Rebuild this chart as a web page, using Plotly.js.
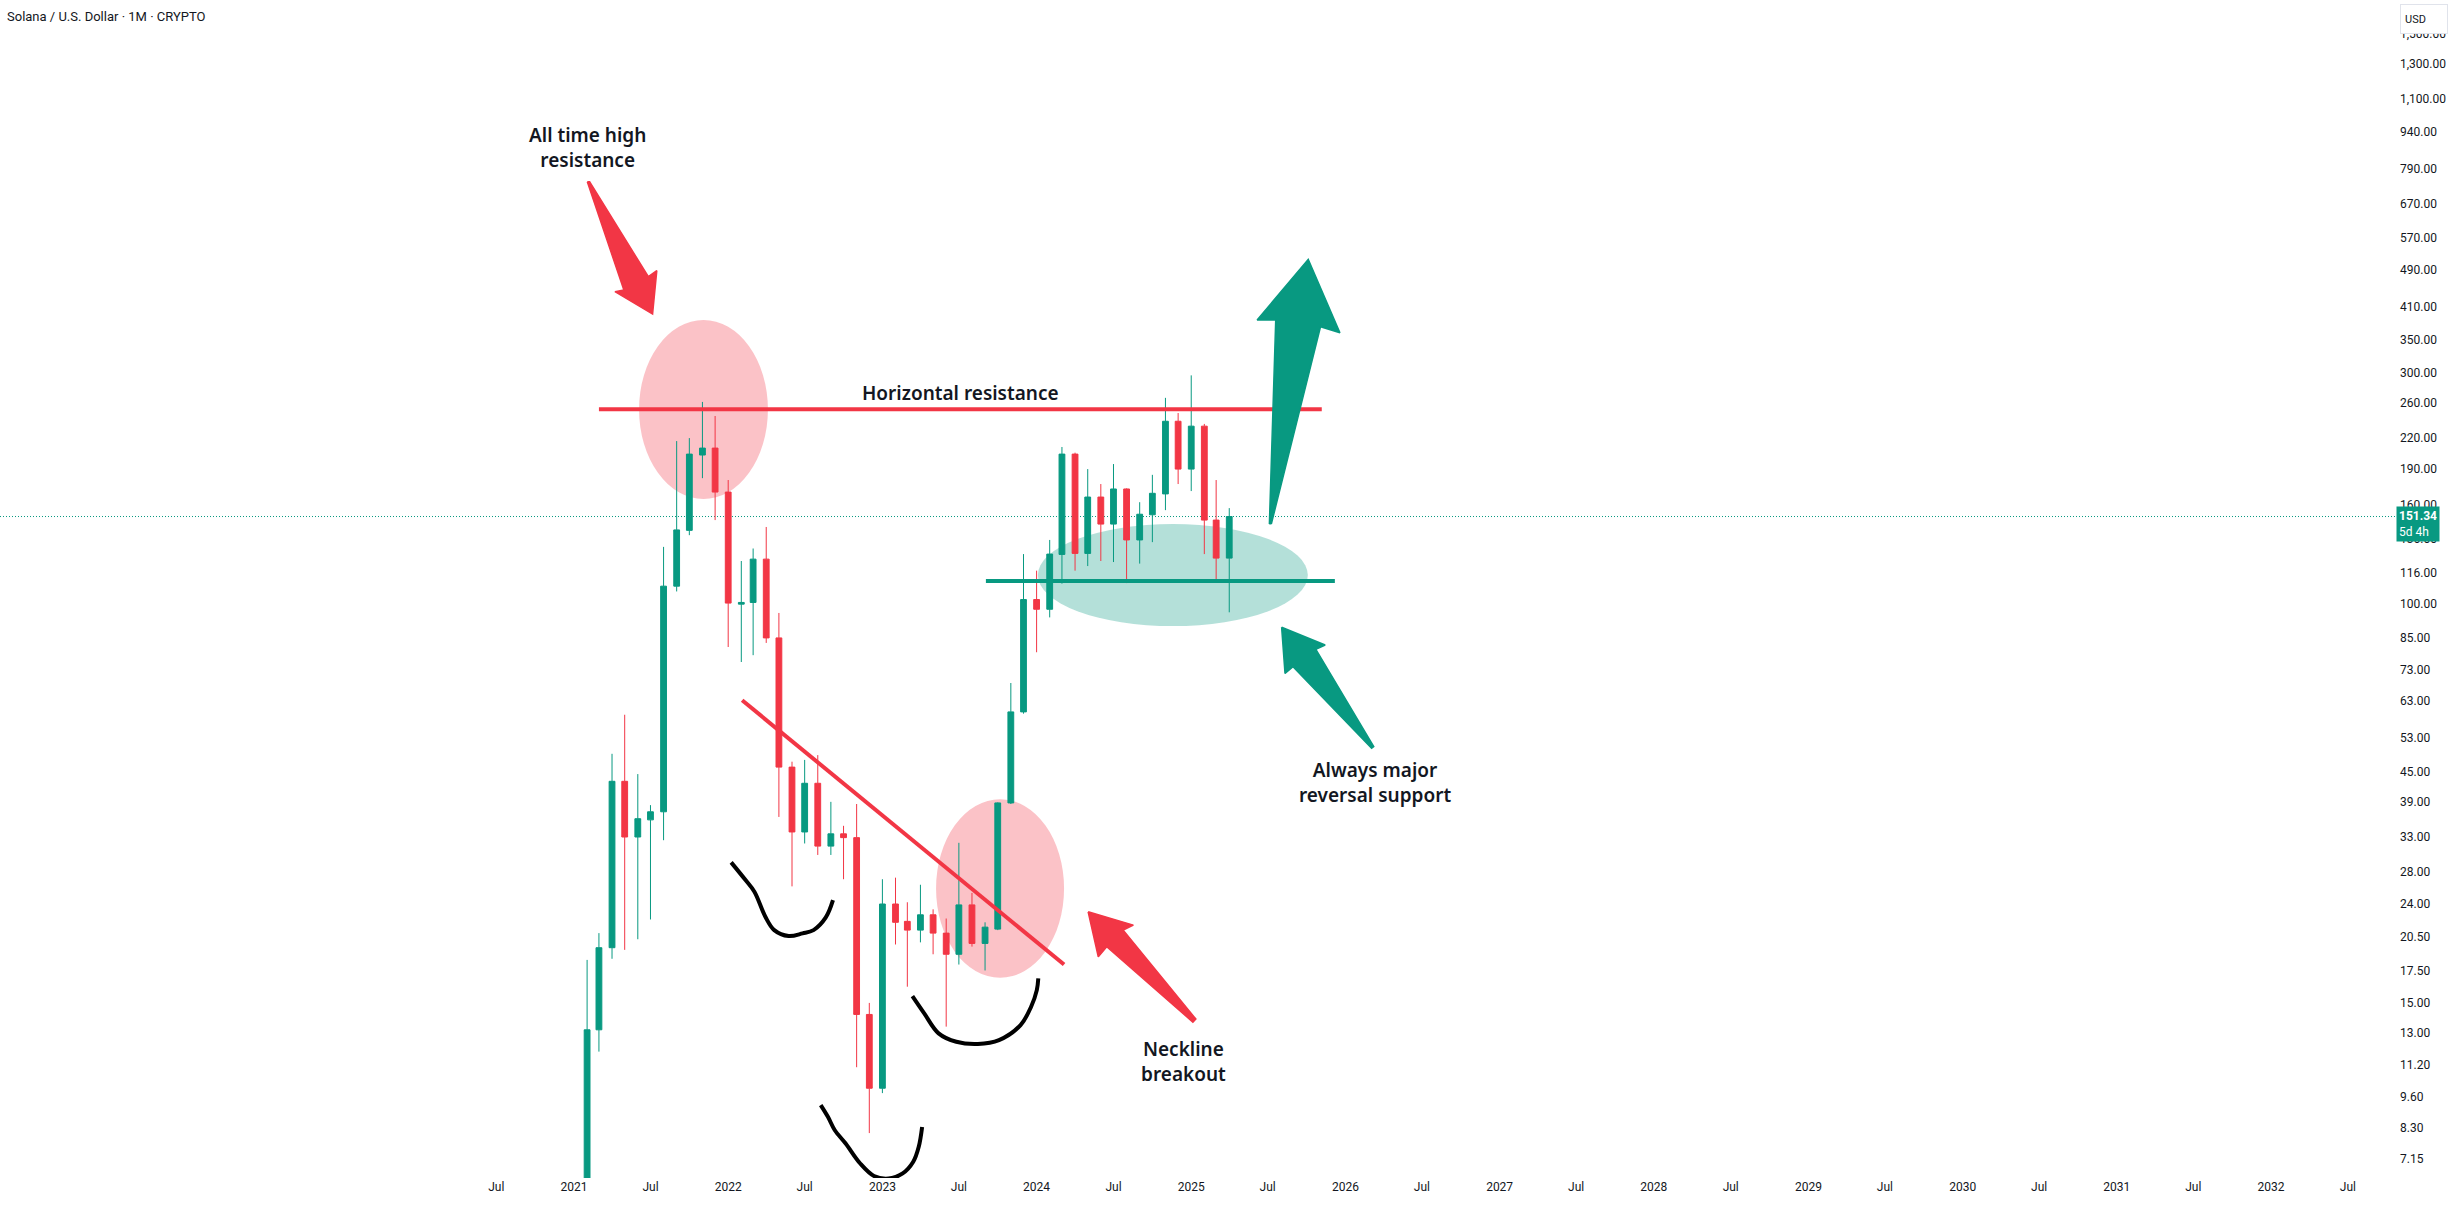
<!DOCTYPE html>
<html>
<head>
<meta charset="utf-8">
<script src="https://cdn.plot.ly/plotly-3.0.1.min.js"></script>
<style>html,body{margin:0;padding:0;background:#fff;} #chart{width:2455px;height:1206px;}</style>
</head>
<body>
<div id="chart"></div>
<script>
// ---------- candle data (monthly, SOL/USD) ----------
const months = ['2021-02-01','2021-03-01','2021-04-01','2021-05-01','2021-06-01','2021-07-01','2021-08-01','2021-09-01','2021-10-01','2021-11-01','2021-12-01',
  '2022-01-01','2022-02-01','2022-03-01','2022-04-01','2022-05-01','2022-06-01','2022-07-01','2022-08-01','2022-09-01','2022-10-01','2022-11-01','2022-12-01',
  '2023-01-01','2023-02-01','2023-03-01','2023-04-01','2023-05-01','2023-06-01','2023-07-01','2023-08-01','2023-09-01','2023-10-01','2023-11-01','2023-12-01',
  '2024-01-01','2024-02-01','2024-03-01','2024-04-01','2024-05-01','2024-06-01','2024-07-01','2024-08-01','2024-09-01','2024-10-01','2024-11-01','2024-12-01',
  '2025-01-01','2025-02-01','2025-03-01','2025-04-01'];
const open  = [4.2,13.2,19.5,43,33,35.8,37.2,108.7,141.7,202.7,209.5,
  170,99.8,100.6,123.6,85,46,33.8,42.6,31.6,33.5,32.9,14.2,
  10.0,24.0,22.1,21.2,22.8,20.9,18.9,23.9,19.9,21.3,38.8,59.8,
  102,97.4,126.4,203.6,127,166,146,172.5,135.4,152.6,168.5,238,
  189.6,232.5,148.8,124.2];
const high  = [18.4,20.9,49,59,44.5,38.4,131,216.6,219.7,260.9,244,
  180,122.5,130,144,95.7,47.2,47.6,48.7,39,34.8,38.6,15,
  27,27.2,24.2,26.3,23.4,22.4,32.1,25.3,22.0,38.9,68.6,126.6,
  117,135.4,210.6,205,189.6,176.6,194.2,173,162,184.5,266,247.5,
  296,235,180,157.5];
const low   = [3.6,11.9,18.5,19.3,20.3,22.3,32.5,106,138.5,181.6,148.8,
  81.4,75.8,78.3,83,36.3,26.1,32,30.3,30.3,27,11.05,8.08,
  9.77,19.8,16.2,20.0,18.9,13.4,18.0,19.6,17.5,21.2,38.6,59.3,
  79.4,93.7,110,117,119.6,122.5,121.9,110.3,121,134,156,176.6,
  170.8,126.6,112.4,96];
const close = [13.2,19.5,43,33,36,37.2,108.7,142,203.6,209.5,170,
  100.3,100.6,123.6,85,46,33.8,42.6,31.6,33.5,32.9,14.2,10.0,
  24.0,22.0,21.2,22.8,20.9,18.9,23.9,19.9,21.5,38.8,59.8,102,
  97.4,126.6,203.6,127,166,146,172.5,135.4,153,169,238,189.6,
  232.5,148.8,124.2,151.34];
const lastPrice = 151.34;
const countdown = '5d 4h';

// ---------- axis ticks ----------
const xTickVals = ['2020-07-01','2021-01-01','2021-07-01','2022-01-01','2022-07-01','2023-01-01','2023-07-01','2024-01-01','2024-07-01',
  '2025-01-01','2025-07-01','2026-01-01','2026-07-01','2027-01-01','2027-07-01','2028-01-01','2028-07-01','2029-01-01','2029-07-01',
  '2030-01-01','2030-07-01','2031-01-01','2031-07-01','2032-01-01','2032-07-01'];
const xTickText = ['Jul','2021','Jul','2022','Jul','2023','Jul','2024','Jul','2025','Jul','2026','Jul','2027','Jul','2028','Jul',
  '2029','Jul','2030','Jul','2031','Jul','2032','Jul'];
const yTickVals = [7.15,8.3,9.6,11.2,13,15,17.5,20.5,24,28,33,39,45,53,63,73,85,100,116,136,160,190,220,260,300,350,410,490,570,670,790,940,1100,1300,1500];
const yTickText = yTickVals.map(v => v.toLocaleString('en-US',{minimumFractionDigits:2, maximumFractionDigits:2}));

// ---------- drawings (date, price) ----------
const resistanceX = ['2021-03-01','2025-11-06'];
const resistanceY = [252, 252];
const supportX = ['2023-09-03','2025-12-07'];
const supportY = [111.4, 111.4];
const necklineX = ['2022-02-03','2024-03-06'];
const necklineY = [63.2, 18.0];

const ellipseTopX = ['2021-06-04','2022-04-05'];
const ellipseTopY = [164.5, 385];
const ellipseSupportX = ['2024-01-04','2025-10-04'];
const ellipseSupportY = [89.9, 146.0];
const ellipseBreakX = ['2023-05-08','2024-03-06'];
const ellipseBreakY = [16.9, 39.5];

const arrowTopX = ['2021-02-01 12:00','2021-02-07','2021-06-26','2021-07-16','2021-07-06','2021-04-08','2021-04-29'];
const arrowTopY = [743, 743, 473, 487, 396, 440.5, 444];
const arrowUpX = ['2025-07-05','2025-07-10','2025-11-03','2025-12-19','2025-10-05','2025-06-06','2025-07-20'];
const arrowUpY = [146.0, 146.5, 372.9, 362.5, 513.8, 385.0, 385.0];
const arrowSupportX = ['2025-08-03','2025-11-14','2025-10-23','2026-03-09','2026-03-04','2025-08-30','2025-08-11'];
const arrowSupportY = [89.4, 82.2, 80.5, 50.7, 50.3, 74.1, 71.8];
const arrowBreakX = ['2024-05-02','2024-08-17','2024-07-24','2025-01-12','2025-01-05','2024-06-15','2024-05-26'];
const arrowBreakY = [23.13, 21.71, 21.20, 13.89, 13.69, 19.59, 18.68];

const curveLeftX = ['2022-01-08','2022-02-11','2022-03-04','2022-03-30','2022-04-20','2022-05-24','2022-06-26','2022-07-22','2022-08-20','2022-09-06'];
const curveLeftY = [29.25, 26.89, 25.44, 22.59, 21.20, 20.61, 20.87, 21.20, 22.52, 24.45];
const curveBottomX = ['2022-08-08','2022-08-25','2022-09-10','2022-10-06','2022-11-09','2022-12-12','2023-01-15','2023-02-18','2023-03-15','2023-03-28','2023-04-05'];
const curveBottomY = [9.23, 8.73, 8.20, 7.69, 7.00, 6.59, 6.51, 6.67, 7.05, 7.57, 8.32];
const curveRightX = ['2023-03-13','2023-04-10','2023-05-14','2023-06-25','2023-08-15','2023-10-04','2023-11-24','2023-12-19','2024-01-01 12:00','2024-01-05'];
const curveRightY = [15.49, 14.27, 12.98, 12.47, 12.34, 12.57, 13.50, 14.73, 15.94, 16.85];

const labels = [
  {text:'All time high<br>resistance', x:'2021-02-03', y:876},
  {text:'Horizontal resistance', x:'2023-07-06', y:272},
  {text:'Always major<br>reversal support', x:'2026-03-12', y:42.7},
  {text:'Neckline<br>breakout', x:'2024-12-14', y:11.35}
];

// ---------- colours ----------
const UP = '#089981', DOWN = '#F23645', INK = '#131722';

const traces = [];
traces.push({
  type:'candlestick', x:months, open:open, high:high, low:low, close:close,
  increasing:{line:{color:UP, width:1}, fillcolor:UP},
  decreasing:{line:{color:DOWN, width:1}, fillcolor:DOWN},
  hoverinfo:'skip', showlegend:false
});
function line(x, y, color, width, shape){
  return {type:'scatter', mode:'lines', x:x, y:y, line:{color:color, width:width, shape:shape||'linear'}, hoverinfo:'skip', showlegend:false};
}
traces.push(line(resistanceX, resistanceY, DOWN, 4));
traces.push(line(supportX, supportY, UP, 4));
traces.push(line(necklineX, necklineY, DOWN, 4));
traces.push(line(curveLeftX, curveLeftY, '#000', 4, 'spline'));
traces.push(line(curveBottomX, curveBottomY, '#000', 4, 'spline'));
traces.push(line(curveRightX, curveRightY, '#000', 4, 'spline'));
function arrow(x, y, color){
  return {type:'scatter', mode:'lines', x:x.concat([x[0]]), y:y.concat([y[0]]), fill:'toself', fillcolor:color,
    line:{color:color, width:1.5}, hoverinfo:'skip', showlegend:false};
}
traces.push(arrow(arrowTopX, arrowTopY, DOWN));
traces.push(arrow(arrowBreakX, arrowBreakY, DOWN));
traces.push(arrow(arrowUpX, arrowUpY, UP));
traces.push(arrow(arrowSupportX, arrowSupportY, UP));

function ellipse(x, y, color){
  return {type:'circle', xref:'x', yref:'y', x0:x[0], x1:x[1], y0:y[0], y1:y[1], fillcolor:color, line:{width:0}, layer:'below'};
}
const shapes = [
  ellipse(ellipseTopX, ellipseTopY, 'rgba(242,54,69,0.3)'),
  ellipse(ellipseBreakX, ellipseBreakY, 'rgba(242,54,69,0.3)'),
  ellipse(ellipseSupportX, ellipseSupportY, 'rgba(8,153,129,0.3)'),
  {type:'line', xref:'paper', yref:'y', x0:0, x1:1, y0:lastPrice, y1:lastPrice, line:{color:UP, width:1, dash:'1px,2px'}, layer:'below'}
];

const annotations = labels.map(l => ({
  text:l.text, x:l.x, y:Math.log10(l.y), xref:'x', yref:'y', showarrow:false,
  xanchor:'center', yanchor:'middle', align:'center', borderpad:0,
  font:{family:'Noto Sans', size:19, weight:600, color:INK}
}));
annotations.push({
  text:'<b>' + lastPrice.toFixed(2) + '</b><br>' + countdown, xref:'paper', x:1, xanchor:'left', xshift:1,
  yref:'y', y:Math.log10(lastPrice), yanchor:'middle', yshift:-7, showarrow:false, align:'left',
  bgcolor:UP, borderpad:2, font:{family:'Roboto', size:12, color:'#ffffff'}
});
annotations.push({
  text:'USD', xref:'paper', x:1, xanchor:'left', xshift:5, yref:'paper', y:1, yanchor:'top', yshift:-4,
  showarrow:false, align:'left', width:38, height:20, bgcolor:'#ffffff', bordercolor:'#e0e3eb', borderwidth:1, borderpad:4,
  font:{family:'Roboto', size:11, color:INK}
});

const layout = {
  width:2455, height:1206,
  margin:{l:0, r:60, t:0, b:28, pad:0},
  paper_bgcolor:'#ffffff', plot_bgcolor:'#ffffff',
  showlegend:false,
  title:{text:'Solana / U.S. Dollar · 1M · CRYPTO', xref:'container', yref:'container', x:7/2455, xanchor:'left', y:1-16/1206, yanchor:'middle',
    font:{family:'Roboto', size:13, color:INK}},
  xaxis:{type:'date', range:['2017-04-13 07:00','2032-10-20 10:00'], rangeslider:{visible:false},
    showgrid:false, zeroline:false, showline:false, ticks:'', tickmode:'array', tickvals:xTickVals, ticktext:xTickText,
    tickfont:{family:'Roboto', size:12, color:INK}, fixedrange:true, automargin:false},
  yaxis:{type:'log', side:'right', range:[Math.log10(6.527), Math.log10(1762)],
    showgrid:false, zeroline:false, showline:false, ticks:'', tickmode:'array', tickvals:yTickVals, ticktext:yTickText,
    tickfont:{family:'Roboto', size:12, color:INK}, ticklabelstandoff:4, fixedrange:true, automargin:false},
  shapes:shapes,
  annotations:annotations
};

Plotly.newPlot('chart', traces, layout, {displayModeBar:false, staticPlot:true});
</script>
</body>
</html>
